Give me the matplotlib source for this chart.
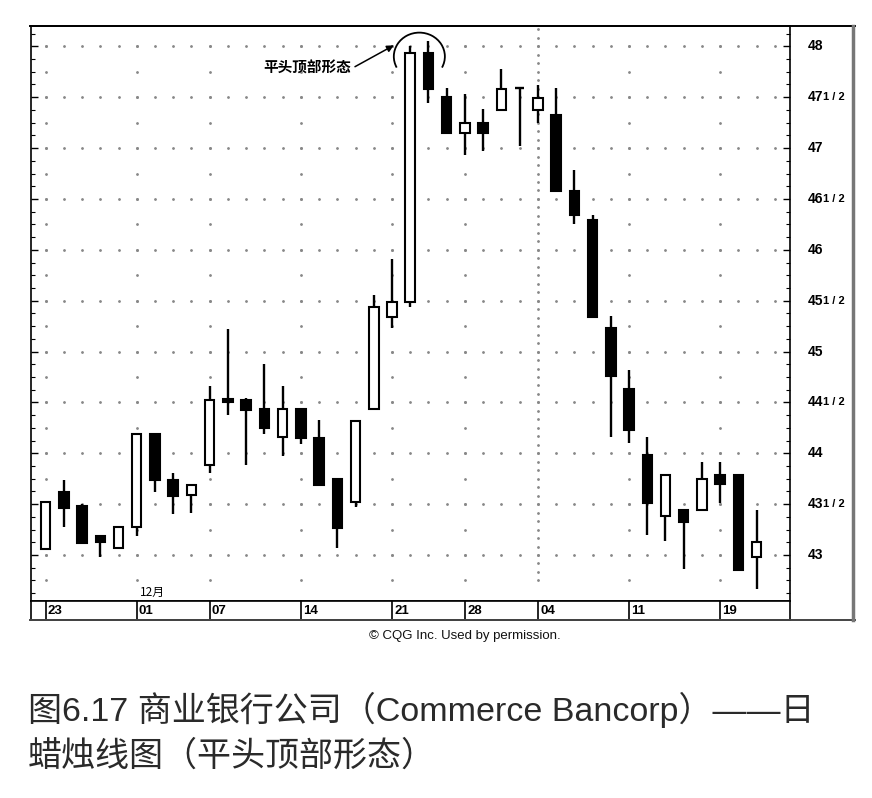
import numpy as np
import matplotlib
matplotlib.use('Agg')
import matplotlib.pyplot as plt
from matplotlib.patches import Rectangle, Arc
from matplotlib.lines import Line2D
from matplotlib.ticker import MultipleLocator

# daily OHLC, Commerce Bancorp
opens = [43.06, 43.62, 43.48, 43.19, 43.07, 43.28, 44.19, 43.74, 43.59, 43.88,
         44.53, 44.52, 44.44, 44.16, 44.44, 44.15, 43.75, 43.52, 44.44, 45.34,
         45.49, 47.93, 47.50, 47.15, 47.25, 47.375, 47.59, 47.375, 47.33, 46.58,
         46.29, 45.23, 44.63, 43.98, 43.38, 43.44, 43.44, 43.79, 43.79, 42.98]
highs = [43.52, 43.74, 43.50, 43.19, 43.28, 44.19, 44.19, 43.81, 43.69, 44.66,
         45.22, 44.54, 44.875, 44.66, 44.44, 44.33, 43.75, 44.32, 45.56, 45.91,
         48.00, 48.05, 47.59, 47.53, 47.38, 47.78, 47.59, 47.62, 47.59, 46.78,
         46.34, 45.35, 44.82, 44.16, 43.79, 43.44, 43.91, 43.91, 43.79, 43.44]
lows = [43.06, 43.28, 43.12, 42.98, 43.07, 43.19, 43.62, 43.40, 43.41, 43.81,
        44.38, 43.88, 44.19, 43.97, 44.09, 43.69, 43.07, 43.475, 44.44, 45.23,
        45.44, 47.44, 47.15, 46.93, 46.97, 47.375, 47.02, 47.245, 46.58, 46.25,
        45.34, 44.16, 44.10, 43.20, 43.14, 42.86, 43.44, 43.51, 42.85, 42.67]
closes = [43.52, 43.46, 43.12, 43.125, 43.28, 44.19, 43.74, 43.58, 43.69, 44.52,
          44.50, 44.43, 44.25, 44.44, 44.15, 43.69, 43.27, 44.32, 45.44, 45.49,
          47.93, 47.58, 47.15, 47.245, 47.15, 47.58, 47.59, 47.49, 46.58, 46.34,
          45.34, 44.76, 44.23, 43.51, 43.79, 43.32, 43.75, 43.70, 42.85, 43.13]

date_pos = [0, 5, 9, 14, 19, 23, 27, 32, 37]
date_labels = ['23', '01', '07', '14', '21', '28', '04', '11', '19']
price_levels = [43, 43.5, 44, 44.5, 45, 45.5, 46, 46.5, 47, 47.5, 48]

cjk = ['Noto Sans CJK SC', 'DejaVu Sans']
lat = ['Liberation Sans', 'DejaVu Sans']
mixed = ['Liberation Sans', 'Noto Sans CJK SC', 'DejaVu Sans']

W, H = 872, 798
def fx(px):
    return px / W
def fy(py):
    return 1 - py / H

fig = plt.figure(figsize=(W / 100, H / 100), dpi=100)
ax = fig.add_axes([fx(31), fy(601), fx(790) - fx(31), fy(26) - fy(601)])
ax.set_xlim(-0.8, 40.83)
ax.set_ylim(42.548, 48.20)

# dotted grid like the CQG printout
n = len(opens)
xs = np.arange(n + 1)
for p in price_levels:
    ax.plot(xs, [p] * len(xs), ls='none', marker='.', ms=2.0, color='#888', zorder=1)
for d in date_pos:
    step = 1 / 12 if d == 27 else 0.25
    ys = np.arange(42.75, 48.2, step)
    ax.plot([d] * len(ys), ys, ls='none', marker='.', ms=2.0, color='#888', zorder=1)

# candles
w = 0.52
for i in range(n):
    o, h, l, c = opens[i], highs[i], lows[i], closes[i]
    ax.vlines(i, l, h, color='black', lw=1.7, zorder=2)
    if o == c:
        ax.hlines(o, i - w / 2, i + w / 2, color='black', lw=1.7, zorder=3)
        continue
    fc = 'white' if c > o else 'black'
    ax.add_patch(Rectangle((i - w / 2, min(o, c)), w, abs(c - o),
                           facecolor=fc, edgecolor='black', lw=1.5, zorder=3))

# y ticks on both sides, pointing inward
ax.yaxis.set_major_locator(MultipleLocator(0.5))
ax.yaxis.set_minor_locator(MultipleLocator(0.125))
ax.tick_params(axis='y', which='both', direction='in', left=True, right=True,
               labelleft=False, labelright=False)
ax.tick_params(axis='y', which='major', length=5, width=1)
ax.tick_params(axis='y', which='minor', length=3, width=0.8)
ax.tick_params(axis='x', which='both', bottom=False, labelbottom=False)
for s in ax.spines.values():
    s.set_linewidth(1.2)

# price labels, halves written as 47 1/2
tr = ax.get_yaxis_transform()
for p in price_levels:
    whole = int(p)
    ax.text(1.0237, p, str(whole), transform=tr, ha='left', va='center',
            fontsize=10, fontweight='bold', family=lat, clip_on=False)
    if p != whole:
        ax.text(1.0435, p, '1 / 2', transform=tr, ha='left', va='center',
                fontsize=8, fontweight='bold', family=lat, clip_on=False)

# pattern annotation
ax.add_patch(Arc((20.5, 47.90), 2.8, 0.47, theta1=-5, theta2=185,
                 color='black', lw=1.3, zorder=4))
ax.annotate('', xy=(19.1, 48.01), xytext=(16.97, 47.80),
            arrowprops=dict(arrowstyle='-|>', color='black', lw=1.1,
                            mutation_scale=10, shrinkA=0, shrinkB=0))
ax.text(14.34, 47.79, '平头顶部形态', ha='center', va='center', fontsize=10.5,
        fontweight='bold', family=cjk)
ax.text(5.2, 42.63, '12月', ha='left', va='center', fontsize=8.5, family=cjk)

# date strip
dax = fig.add_axes([fx(31), fy(620), fx(790) - fx(31), fy(601) - fy(620)])
dax.set_xlim(ax.get_xlim())
dax.set_ylim(0, 1)
dax.set_xticks([])
dax.set_yticks([])
for s in dax.spines.values():
    s.set_linewidth(1.2)
for d, lab in zip(date_pos, date_labels):
    dax.vlines(d, 0, 1, color='black', lw=1.2)
    dax.text(d + 0.12, 0.45, lab, ha='left', va='center', fontsize=9.5,
             fontweight='bold', family=lat)

# outer frame of the printout
fig.add_artist(Line2D([fx(30), fx(855)], [fy(26), fy(26)], transform=fig.transFigure,
                      color='black', lw=1.4))
fig.add_artist(Line2D([fx(30), fx(855)], [fy(620), fy(620)], transform=fig.transFigure,
                      color='#444', lw=1.4))
fig.add_artist(Line2D([fx(853), fx(853)], [fy(26), fy(620)], transform=fig.transFigure,
                      color='#777', lw=2.5))

fig.text(fx(465), fy(636), '© CQG Inc. Used by permission.', ha='center', va='center',
         fontsize=9.5, family=lat, color='#111')

fig.text(fx(28), fy(710), '图6.17 商业银行公司（Commerce Bancorp）——日', ha='left',
         va='center', fontsize=24.5, family=mixed, color='#2a2a2a')
fig.text(fx(28), fy(757), '蜡烛线图（平头顶部形态）', ha='left', va='center',
         fontsize=24.5, family=mixed, color='#2a2a2a')

fig.savefig('out.png', dpi=100)
